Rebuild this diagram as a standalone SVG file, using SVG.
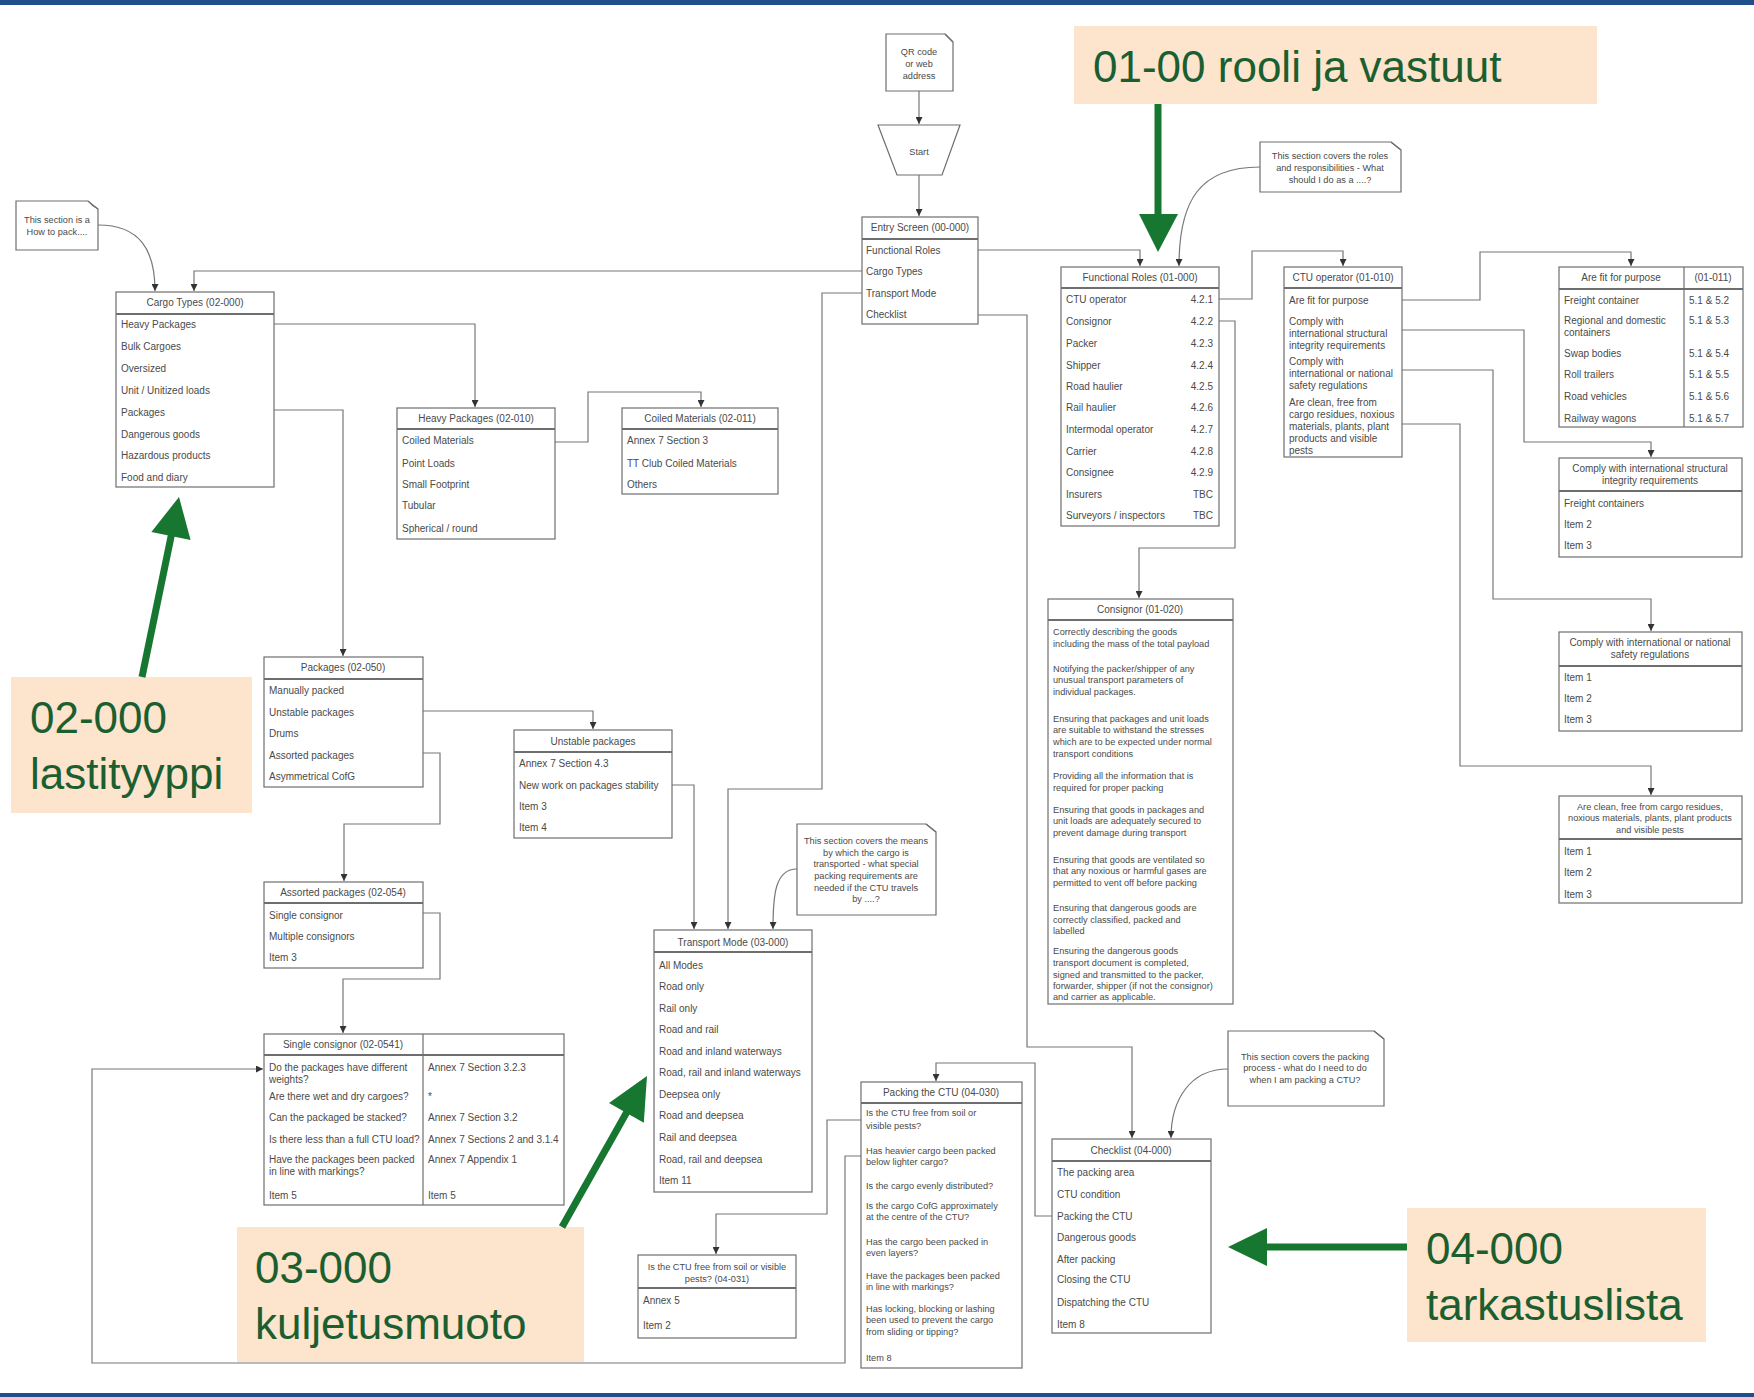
<svg xmlns="http://www.w3.org/2000/svg" width="1754" height="1397" viewBox="0 0 1754 1397">
<style>
.b{fill:#fff;stroke:#6e6e6e;stroke-width:1.2}
.h{fill:none;stroke:#6e6e6e;stroke-width:2}
.d{fill:none;stroke:#6e6e6e;stroke-width:1.2}
.t{font-family:"Liberation Sans",Arial,sans-serif;font-size:10px;fill:#4a4a4a}
.s{font-size:9.2px}
.c{text-anchor:middle}
.r{text-anchor:end}
.ln{fill:none;stroke:#777;stroke-width:1.2}
.g{fill:#17762f}
.gs{stroke:#17762f;stroke-width:7;fill:none}
.lb{fill:#fce4cd}
.lt{font-family:"Liberation Sans",Arial,sans-serif;font-size:44px;fill:#1b5e30}
</style>
<defs>
<marker id="a" viewBox="0 0 8 8" refX="8" refY="4" markerWidth="7" markerHeight="7" orient="auto" markerUnits="userSpaceOnUse"><path d="M0,0 L8,4 L0,8 z" fill="#333"/></marker>
</defs>
<rect x="0" y="0" width="1754" height="1397" fill="#fff"/>
<rect x="0" y="0" width="1754" height="5" fill="#1f4e8c"/>
<rect x="0" y="1393" width="1754" height="4" fill="#1f4e8c"/>

<g id="connectors" class="ln" marker-end="url(#a)">
<path d="M98,225 C140,225 155,250 155,291"/>
<path d="M862,271 H194 V291"/>
<path d="M274,324 H475 V407"/>
<path d="M274,410 H343 V656"/>
<path d="M555,442 H588 V392 H701 V407"/>
<path d="M919,91 V124"/>
<path d="M919,175 V216"/>
<path d="M978,250 H1140 V266"/>
<path d="M1260,167 C1200,167 1179,200 1179,266"/>
<path d="M1219,299 H1252 V251 H1343 V266"/>
<path d="M1219,321 H1235 V548 H1139 V598"/>
<path d="M1402,300 H1480 V252 H1631 V266"/>
<path d="M1402,330 H1524 V442 H1651 V457"/>
<path d="M1402,370 H1493 V599 H1651 V631"/>
<path d="M1402,424 H1460 V766 H1651 V795"/>
<path d="M423,711 H593 V729"/>
<path d="M423,753 H440 V824 H344 V881"/>
<path d="M423,913 H440 V979 H343 V1033"/>
<path d="M862,293 H822 V789 H728 V929"/>
<path d="M672,785 H694 V929"/>
<path d="M797,869 C775,869 773,895 773,929"/>
<path d="M978,315 H1027 V1047 H1132 V1138"/>
<path d="M1228,1069 C1190,1069 1171,1100 1171,1138"/>
<path d="M1052,1216 H1035 V1063 H936 V1081"/>
<path d="M861,1120 H827 V1214 H716 V1254"/>
<path d="M861,1156 H845 V1363 H92 V1069 H263"/>
</g>

<g id="note-howto">
<path class="b" d="M16,201 H88 L98,209 V250 H16 Z"/>
<path class="d" d="M88,201 Q92,206 98,209"/>
<text class="t s c" x="57" y="223">This section is a</text>
<text class="t s c" x="57" y="235">How to pack....</text>
</g>

<g id="cargo-types">
<rect class="b" x="116" y="292" width="158" height="195"/>
<line class="h" x1="116" y1="314" x2="274" y2="314"/>
<text class="t c" x="195" y="306">Cargo Types (02-000)</text>
<text class="t" x="121" y="328">Heavy Packages</text>
<text class="t" x="121" y="350">Bulk Cargoes</text>
<text class="t" x="121" y="372">Oversized</text>
<text class="t" x="121" y="394">Unit / Unitized loads</text>
<text class="t" x="121" y="416">Packages</text>
<text class="t" x="121" y="438">Dangerous goods</text>
<text class="t" x="121" y="459">Hazardous products</text>
<text class="t" x="121" y="481">Food and diary</text>
</g>

<g id="heavy-packages">
<rect class="b" x="397" y="408" width="158" height="131"/>
<line class="h" x1="397" y1="429" x2="555" y2="429"/>
<text class="t c" x="476" y="422">Heavy Packages (02-010)</text>
<text class="t" x="402" y="444">Coiled Materials</text>
<text class="t" x="402" y="467">Point Loads</text>
<text class="t" x="402" y="488">Small Footprint</text>
<text class="t" x="402" y="509">Tubular</text>
<text class="t" x="402" y="532">Spherical / round</text>
</g>

<g id="coiled-materials">
<rect class="b" x="622" y="408" width="156" height="86"/>
<line class="h" x1="622" y1="429" x2="778" y2="429"/>
<text class="t c" x="700" y="422">Coiled Materials (02-011)</text>
<text class="t" x="627" y="444">Annex 7 Section 3</text>
<text class="t" x="627" y="467">TT Club Coiled Materials</text>
<text class="t" x="627" y="488">Others</text>
</g>

<g id="qr-note">
<path class="b" d="M886,34 H945 L953,42 V91 H886 Z"/>
<path class="d" d="M945,34 Q949,38 953,42"/>
<text class="t s c" x="919" y="55">QR code</text>
<text class="t s c" x="919" y="67">or web</text>
<text class="t s c" x="919" y="79">address</text>
</g>

<g id="start">
<path class="b" d="M878,125 H960 L942,175 H897 Z"/>
<text class="t s c" x="919" y="155">Start</text>
</g>

<g id="entry-screen">
<rect class="b" x="862" y="217" width="116" height="107"/>
<line class="h" x1="862" y1="239" x2="978" y2="239"/>
<text class="t c" x="920" y="231">Entry Screen (00-000)</text>
<text class="t" x="866" y="254">Functional Roles</text>
<text class="t" x="866" y="275">Cargo Types</text>
<text class="t" x="866" y="297">Transport Mode</text>
<text class="t" x="866" y="318">Checklist</text>
</g>

<g id="functional-roles">
<rect class="b" x="1061" y="267" width="158" height="259"/>
<line class="h" x1="1061" y1="288" x2="1219" y2="288"/>
<text class="t c" x="1140" y="281">Functional Roles (01-000)</text>
<text class="t" x="1066" y="303">CTU operator</text><text class="t r" x="1213" y="303">4.2.1</text>
<text class="t" x="1066" y="325">Consignor</text><text class="t r" x="1213" y="325">4.2.2</text>
<text class="t" x="1066" y="347">Packer</text><text class="t r" x="1213" y="347">4.2.3</text>
<text class="t" x="1066" y="369">Shipper</text><text class="t r" x="1213" y="369">4.2.4</text>
<text class="t" x="1066" y="390">Road haulier</text><text class="t r" x="1213" y="390">4.2.5</text>
<text class="t" x="1066" y="411">Rail haulier</text><text class="t r" x="1213" y="411">4.2.6</text>
<text class="t" x="1066" y="433">Intermodal operator</text><text class="t r" x="1213" y="433">4.2.7</text>
<text class="t" x="1066" y="455">Carrier</text><text class="t r" x="1213" y="455">4.2.8</text>
<text class="t" x="1066" y="476">Consignee</text><text class="t r" x="1213" y="476">4.2.9</text>
<text class="t" x="1066" y="498">Insurers</text><text class="t r" x="1213" y="498">TBC</text>
<text class="t" x="1066" y="519">Surveyors / inspectors</text><text class="t r" x="1213" y="519">TBC</text>
</g>

<g id="note-roles">
<path class="b" d="M1260,142 H1391 L1401,150 V192 H1260 Z"/>
<path class="d" d="M1391,142 Q1396,146 1401,150"/>
<text class="t s c" x="1330" y="159">This section covers the roles</text>
<text class="t s c" x="1330" y="171">and responsibilities - What</text>
<text class="t s c" x="1330" y="183">should I do as a ....?</text>
</g>

<g id="ctu-operator">
<rect class="b" x="1284" y="267" width="118" height="190"/>
<line class="h" x1="1284" y1="288" x2="1402" y2="288"/>
<text class="t c" x="1343" y="281">CTU operator (01-010)</text>
<text class="t" x="1289" y="304">Are fit for purpose</text>
<text class="t" x="1289" y="325">Comply with</text>
<text class="t" x="1289" y="337">international structural</text>
<text class="t" x="1289" y="349">integrity requirements</text>
<text class="t" x="1289" y="365">Comply with</text>
<text class="t" x="1289" y="377">international or national</text>
<text class="t" x="1289" y="389">safety regulations</text>
<text class="t" x="1289" y="406">Are clean, free from</text>
<text class="t" x="1289" y="418">cargo residues, noxious</text>
<text class="t" x="1289" y="430">materials, plants, plant</text>
<text class="t" x="1289" y="442">products and visible</text>
<text class="t" x="1289" y="454">pests</text>
</g>

<g id="fit-for-purpose">
<rect class="b" x="1559" y="267" width="184" height="160"/>
<line class="h" x1="1559" y1="289" x2="1743" y2="289"/>
<line class="d" x1="1684" y1="267" x2="1684" y2="427"/>
<text class="t c" x="1621" y="281">Are fit for purpose</text>
<text class="t c" x="1713" y="281">(01-011)</text>
<text class="t" x="1564" y="304">Freight container</text><text class="t" x="1689" y="304">5.1 &amp; 5.2</text>
<text class="t" x="1564" y="324">Regional and domestic</text><text class="t" x="1689" y="324">5.1 &amp; 5.3</text>
<text class="t" x="1564" y="336">containers</text>
<text class="t" x="1564" y="357">Swap bodies</text><text class="t" x="1689" y="357">5.1 &amp; 5.4</text>
<text class="t" x="1564" y="378">Roll trailers</text><text class="t" x="1689" y="378">5.1 &amp; 5.5</text>
<text class="t" x="1564" y="400">Road vehicles</text><text class="t" x="1689" y="400">5.1 &amp; 5.6</text>
<text class="t" x="1564" y="422">Railway wagons</text><text class="t" x="1689" y="422">5.1 &amp; 5.7</text>
</g>

<g id="comply-structural">
<rect class="b" x="1559" y="458" width="183" height="99"/>
<line class="h" x1="1559" y1="491" x2="1742" y2="491"/>
<text class="t c" x="1650" y="472">Comply with international structural</text>
<text class="t c" x="1650" y="484">integrity requirements</text>
<text class="t" x="1564" y="507">Freight containers</text>
<text class="t" x="1564" y="528">Item 2</text>
<text class="t" x="1564" y="549">Item 3</text>
</g>

<g id="comply-safety">
<rect class="b" x="1559" y="632" width="183" height="99"/>
<line class="h" x1="1559" y1="666" x2="1742" y2="666"/>
<text class="t c" x="1650" y="646">Comply with international or national</text>
<text class="t c" x="1650" y="658">safety regulations</text>
<text class="t" x="1564" y="681">Item 1</text>
<text class="t" x="1564" y="702">Item 2</text>
<text class="t" x="1564" y="723">Item 3</text>
</g>

<g id="are-clean">
<rect class="b" x="1559" y="796" width="183" height="107"/>
<line class="h" x1="1559" y1="839" x2="1742" y2="839"/>
<text class="t s c" x="1650" y="810">Are clean, free from cargo residues,</text>
<text class="t s c" x="1650" y="821">noxious materials, plants, plant products</text>
<text class="t s c" x="1650" y="833">and visible pests</text>
<text class="t" x="1564" y="855">Item 1</text>
<text class="t" x="1564" y="876">Item 2</text>
<text class="t" x="1564" y="898">Item 3</text>
</g>

<g id="consignor">
<rect class="b" x="1048" y="599" width="185" height="405"/>
<line class="h" x1="1048" y1="620" x2="1233" y2="620"/>
<text class="t c" x="1140" y="613">Consignor (01-020)</text>
<text class="t s" x="1053" y="635">Correctly describing the goods</text>
<text class="t s" x="1053" y="647">including the mass of the total payload</text>
<text class="t s" x="1053" y="672">Notifying the packer/shipper of any</text>
<text class="t s" x="1053" y="683">unusual transport parameters of</text>
<text class="t s" x="1053" y="695">individual packages.</text>
<text class="t s" x="1053" y="722">Ensuring that packages and unit loads</text>
<text class="t s" x="1053" y="733">are suitable to withstand the stresses</text>
<text class="t s" x="1053" y="745">which are to be expected under normal</text>
<text class="t s" x="1053" y="757">transport conditions</text>
<text class="t s" x="1053" y="779">Providing all the information that is</text>
<text class="t s" x="1053" y="791">required for proper packing</text>
<text class="t s" x="1053" y="813">Ensuring that goods in packages and</text>
<text class="t s" x="1053" y="824">unit loads are adequately secured to</text>
<text class="t s" x="1053" y="836">prevent damage during transport</text>
<text class="t s" x="1053" y="863">Ensuring that goods are ventilated so</text>
<text class="t s" x="1053" y="874">that any noxious or harmful gases are</text>
<text class="t s" x="1053" y="886">permitted to vent off before packing</text>
<text class="t s" x="1053" y="911">Ensuring that dangerous goods are</text>
<text class="t s" x="1053" y="923">correctly classified, packed and</text>
<text class="t s" x="1053" y="934">labelled</text>
<text class="t s" x="1053" y="954">Ensuring the dangerous goods</text>
<text class="t s" x="1053" y="966">transport document is completed,</text>
<text class="t s" x="1053" y="978">signed and transmitted to the packer,</text>
<text class="t s" x="1053" y="989">forwarder, shipper (if not the consignor)</text>
<text class="t s" x="1053" y="1000">and carrier as applicable.</text>
</g>

<g id="packages">
<rect class="b" x="264" y="657" width="159" height="130"/>
<line class="h" x1="264" y1="679" x2="423" y2="679"/>
<text class="t c" x="343" y="671">Packages (02-050)</text>
<text class="t" x="269" y="694">Manually packed</text>
<text class="t" x="269" y="716">Unstable packages</text>
<text class="t" x="269" y="737">Drums</text>
<text class="t" x="269" y="759">Assorted packages</text>
<text class="t" x="269" y="780">Asymmetrical  CofG</text>
</g>

<g id="unstable-packages">
<rect class="b" x="514" y="730" width="158" height="108"/>
<line class="h" x1="514" y1="752" x2="672" y2="752"/>
<text class="t c" x="593" y="745">Unstable packages</text>
<text class="t" x="519" y="767">Annex 7 Section 4.3</text>
<text class="t" x="519" y="789">New work on packages stability</text>
<text class="t" x="519" y="810">Item 3</text>
<text class="t" x="519" y="831">Item 4</text>
</g>

<g id="assorted-packages">
<rect class="b" x="264" y="882" width="159" height="86"/>
<line class="h" x1="264" y1="903" x2="423" y2="903"/>
<text class="t c" x="343" y="896">Assorted packages (02-054)</text>
<text class="t" x="269" y="919">Single consignor</text>
<text class="t" x="269" y="940">Multiple consignors</text>
<text class="t" x="269" y="961">Item 3</text>
</g>

<g id="single-consignor">
<rect class="b" x="264" y="1034" width="300" height="171"/>
<line class="h" x1="264" y1="1055" x2="564" y2="1055"/>
<line class="d" x1="423" y1="1034" x2="423" y2="1205"/>
<text class="t c" x="343" y="1048">Single consignor (02-0541)</text>
<text class="t" x="269" y="1071">Do the packages have different</text>
<text class="t" x="269" y="1083">weights?</text>
<text class="t" x="428" y="1071">Annex 7 Section 3.2.3</text>
<text class="t" x="269" y="1100">Are there wet and dry cargoes?</text>
<text class="t" x="428" y="1100">*</text>
<text class="t" x="269" y="1121">Can the packaged be stacked?</text>
<text class="t" x="428" y="1121">Annex 7 Section 3.2</text>
<text class="t" x="269" y="1143">Is there less than a full CTU load?</text>
<text class="t" x="428" y="1143">Annex 7 Sections 2 and 3.1.4</text>
<text class="t" x="269" y="1163">Have the packages been packed</text>
<text class="t" x="269" y="1175">in line with markings?</text>
<text class="t" x="428" y="1163">Annex 7 Appendix 1</text>
<text class="t" x="269" y="1199">Item 5</text>
<text class="t" x="428" y="1199">Item 5</text>
</g>

<g id="transport-mode">
<rect class="b" x="654" y="930" width="158" height="262"/>
<line class="h" x1="654" y1="952" x2="812" y2="952"/>
<text class="t c" x="733" y="946">Transport Mode (03-000)</text>
<text class="t" x="659" y="969">All Modes</text>
<text class="t" x="659" y="990">Road only</text>
<text class="t" x="659" y="1012">Rail only</text>
<text class="t" x="659" y="1033">Road and rail</text>
<text class="t" x="659" y="1055">Road and inland waterways</text>
<text class="t" x="659" y="1076">Road, rail and inland waterways</text>
<text class="t" x="659" y="1098">Deepsea only</text>
<text class="t" x="659" y="1119">Road and deepsea</text>
<text class="t" x="659" y="1141">Rail and deepsea</text>
<text class="t" x="659" y="1163">Road, rail and deepsea</text>
<text class="t" x="659" y="1184">Item 11</text>
</g>

<g id="note-transport">
<path class="b" d="M797,824 H926 L936,832 V915 H797 Z"/>
<path class="d" d="M926,824 Q931,828 936,832"/>
<text class="t s c" x="866" y="844">This section covers the means</text>
<text class="t s c" x="866" y="856">by which the cargo is</text>
<text class="t s c" x="866" y="867">transported - what special</text>
<text class="t s c" x="866" y="879">packing requirements are</text>
<text class="t s c" x="866" y="891">needed if the CTU travels</text>
<text class="t s c" x="866" y="902">by ....?</text>
</g>

<g id="packing-ctu">
<rect class="b" x="861" y="1082" width="161" height="286"/>
<line class="h" x1="861" y1="1103" x2="1022" y2="1103"/>
<text class="t c" x="941" y="1096">Packing the CTU (04-030)</text>
<text class="t s" x="866" y="1116">Is the CTU free from soil or</text>
<text class="t s" x="866" y="1129">visible pests?</text>
<text class="t s" x="866" y="1154">Has heavier cargo been packed</text>
<text class="t s" x="866" y="1165">below lighter cargo?</text>
<text class="t s" x="866" y="1189">Is the cargo evenly distributed?</text>
<text class="t s" x="866" y="1209">Is the cargo CofG approximately</text>
<text class="t s" x="866" y="1220">at the centre of the CTU?</text>
<text class="t s" x="866" y="1245">Has the cargo been packed in</text>
<text class="t s" x="866" y="1256">even layers?</text>
<text class="t s" x="866" y="1279">Have the packages been packed</text>
<text class="t s" x="866" y="1290">in line with markings?</text>
<text class="t s" x="866" y="1312">Has locking, blocking or lashing</text>
<text class="t s" x="866" y="1323">been used to prevent the cargo</text>
<text class="t s" x="866" y="1335">from sliding or tipping?</text>
<text class="t s" x="866" y="1361">Item 8</text>
</g>

<g id="ctu-free">
<rect class="b" x="638" y="1255" width="158" height="83"/>
<line class="h" x1="638" y1="1288" x2="796" y2="1288"/>
<text class="t s c" x="717" y="1270">Is the CTU free from soil or visible</text>
<text class="t s c" x="717" y="1282">pests? (04-031)</text>
<text class="t" x="643" y="1304">Annex 5</text>
<text class="t" x="643" y="1329">Item 2</text>
</g>

<g id="checklist">
<rect class="b" x="1052" y="1139" width="159" height="194"/>
<line class="h" x1="1052" y1="1161" x2="1211" y2="1161"/>
<text class="t c" x="1131" y="1154">Checklist (04-000)</text>
<text class="t" x="1057" y="1176">The packing area</text>
<text class="t" x="1057" y="1198">CTU condition</text>
<text class="t" x="1057" y="1220">Packing the CTU</text>
<text class="t" x="1057" y="1241">Dangerous goods</text>
<text class="t" x="1057" y="1263">After packing</text>
<text class="t" x="1057" y="1283">Closing the CTU</text>
<text class="t" x="1057" y="1306">Dispatching the CTU</text>
<text class="t" x="1057" y="1328">Item 8</text>
</g>

<g id="note-checklist">
<path class="b" d="M1228,1031 H1374 L1384,1039 V1106 H1228 Z"/>
<path class="d" d="M1374,1031 Q1379,1035 1384,1039"/>
<text class="t s c" x="1305" y="1060">This section covers the packing</text>
<text class="t s c" x="1305" y="1071">process - what do I need to do</text>
<text class="t s c" x="1305" y="1083">when I am packing a CTU?</text>
</g>

<g id="label-01">
<rect class="lb" x="1074" y="26" width="523" height="78"/>
<text class="lt" x="1093" y="82">01-00 rooli ja vastuut</text>
<line class="gs" x1="1158" y1="104" x2="1158" y2="216"/>
<polygon class="g" points="1139,214 1178,214 1158,252"/>
</g>

<g id="label-02">
<rect class="lb" x="11" y="677" width="241" height="136"/>
<text class="lt" x="30" y="733">02-000</text>
<text class="lt" x="30" y="789">lastityyppi</text>
<line class="gs" x1="142" y1="677" x2="172" y2="532"/>
<polygon class="g" points="179,497 190.6,540 151.4,532"/>
</g>

<g id="label-03">
<rect class="lb" x="237" y="1227" width="347" height="135"/>
<text class="lt" x="255" y="1283">03-000</text>
<text class="lt" x="255" y="1339">kuljetusmuoto</text>
<line class="gs" x1="562" y1="1227" x2="628" y2="1110"/>
<polygon class="g" points="647,1076 643.8,1122.8 609,1103"/>
</g>

<g id="label-04">
<rect class="lb" x="1407" y="1208" width="299" height="134"/>
<text class="lt" x="1426" y="1264">04-000</text>
<text class="lt" x="1426" y="1320">tarkastuslista</text>
<line class="gs" x1="1407" y1="1247" x2="1264" y2="1247"/>
<polygon class="g" points="1228,1247 1267,1228 1267,1266"/>
</g>
</svg>
